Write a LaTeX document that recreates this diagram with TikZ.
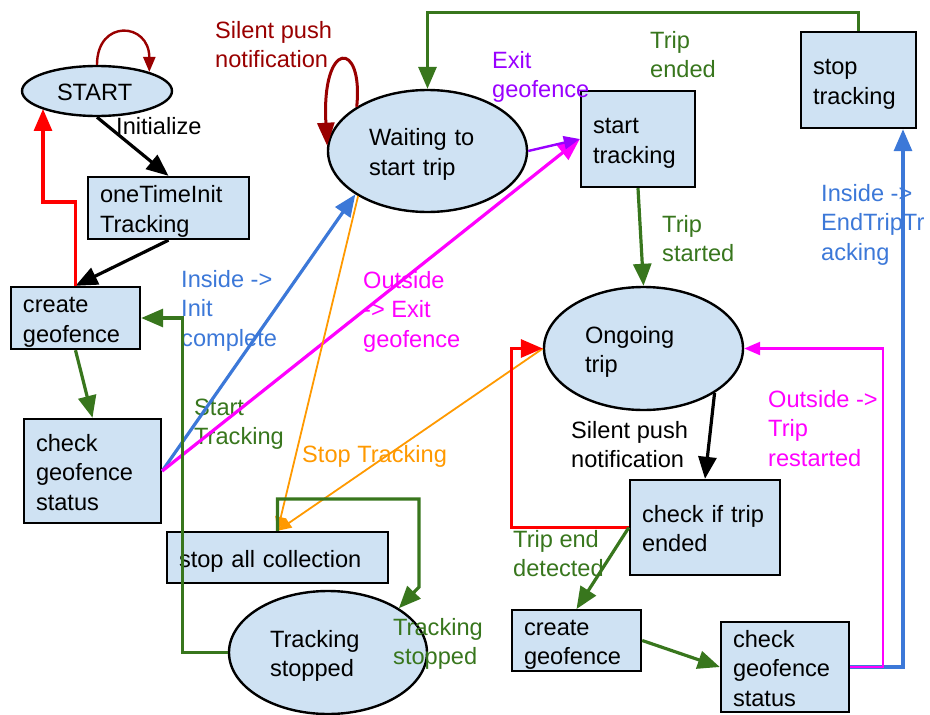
\documentclass[tikz,border=0pt]{standalone}
\usepackage{fontspec}
\setmainfont{Liberation Sans}
\usetikzlibrary{arrows.meta,shapes.geometric}
\definecolor{boxfill}{HTML}{CFE2F3}
\definecolor{dgreen}{HTML}{38761D}
\definecolor{dred}{HTML}{990000}
\definecolor{lblue}{HTML}{3C78D8}
\definecolor{magen}{HTML}{FF00FF}
\definecolor{orng}{HTML}{FF9900}
\definecolor{purp}{HTML}{9900FF}
\definecolor{brred}{HTML}{FF0000}
\begin{document}
\begin{tikzpicture}[x=1pt,y=-1pt,
  every node/.style={font=\fontsize{23.6}{29.5}\selectfont},
  % fixed line struts so that text blocks are centred like padded text lines
  padded/.style={execute at begin node={\rule{0pt}{25pt}},
                 execute at end node={\rule[-6pt]{0pt}{6pt}}},
  box/.style={draw=black,line width=2.4pt,fill=boxfill,rectangle,inner xsep=12pt,inner ysep=0pt,align=left,padded},
  state/.style={draw=black,line width=2.4pt,fill=boxfill,ellipse,inner sep=0pt,align=left,padded},
  lbl/.style={anchor=base west,inner sep=0pt,align=left},
  conn/.style={line width=3.2pt,-{Triangle[length=22pt,width=18pt]}},
  slim/.style={line width=1.8pt,-{Triangle[length=14pt,width=11pt]}},
]
\useasboundingbox (0,0) rectangle (930,715);

% states and actions
\node[state, text width=80pt, minimum width=150pt, minimum height=50pt] (start) at (97,91) {START};
\node[box, text width=137pt, minimum height=62pt] (init) at (168.5,208) {oneTimeInit\\Tracking};
\node[box, text width=105pt, minimum height=62pt] (cg1) at (75.5,318) {create\\geofence};
\node[box, text width=113pt, minimum height=104pt] (cgs1) at (92.5,471) {check\\geofence\\status};
\node[state, text width=117pt, minimum width=199pt, minimum height=122pt] (wait) at (427.5,151) {Waiting to\\start trip};
\node[box, text width=90pt, minimum height=96pt] (sttrack) at (638,139) {start\\tracking};
\node[box, text width=91pt, minimum height=96pt] (stoptrack) at (858.5,80) {stop\\tracking};
\node[state, text width=117pt, minimum width=199pt, minimum height=123pt] (ongoing) at (643.5,348.5) {Ongoing\\trip};
\node[box, text width=126pt, minimum height=95pt] (checkend) at (705,527.5) {check if trip\\ended};
\node[box, text width=105pt, minimum height=59pt] (cg2) at (576.5,640.5) {create\\geofence};
\node[box, text width=104pt, minimum height=88pt] (cgs2) at (785,667) {check\\geofence\\status};
\node[box, text width=197pt, minimum height=51pt] (stopall) at (277.5,557.5) {stop all collection};
\node[state, text width=116pt, minimum width=198pt, minimum height=123pt] (tstopped) at (328,652.5) {Tracking\\stopped};

% transition labels (anchored at the baseline of their last line)
\node[lbl, text=dred] (l1) at (215,67.5) {Silent push\\notification};
\node[lbl] (l2) at (116,134) {Initialize};
\node[lbl, text=lblue] (l3) at (181,346) {Inside ->\\Init\\complete};
\node[lbl, text=magen] (l4) at (363,347) {Outside\\-> Exit\\geofence};
\node[lbl, text=purp] (l5) at (492,97.5) {Exit\\geofence};
\node[lbl, text=dgreen] (l6) at (650,77.5) {Trip\\ended};
\node[lbl, text=dgreen] (l7) at (662,261.5) {Trip\\started};
\node[lbl, text=lblue] (l8) at (821,260) {Inside ->\\EndTripTr\\acking};
\node[lbl, text=dgreen] (l9) at (194,444.5) {Start\\Tracking};
\node[lbl, text=orng] (l10) at (302,462) {Stop Tracking};
\node[lbl, text=dgreen] (l11) at (393,664.5) {Tracking\\stopped};
\node[lbl] (l12) at (571,467.5) {Silent push\\notification};
\node[lbl, text=magen] (l13) at (768,466) {Outside ->\\Trip\\restarted};
\node[lbl, text=dgreen] (l14) at (513,576.5) {Trip end\\detected};

% transitions
\draw[dred, line width=2.4pt, -{Triangle[length=15pt,width=12pt]}]
  (start.north) .. controls +(0,-46) and +(0,-50) .. (start.20);
\draw[dred, line width=3pt, -{Triangle[length=23pt,width=17pt]}]
  (wait.148) .. controls +(7,-67) and +(-6,-107) .. (wait.177);
\draw[conn, black] (start.south) -- (init.north);
\draw[conn, black] (init.south) -- (cg1.north);
\coordinate (redbend) at (43,202);
\draw[conn, brred] (cg1.north) |- (redbend) -- (redbend |- start.198);
\draw[conn, dgreen] (cg1.south) -- (cgs1.north);
\draw[conn, lblue] (cgs1.east) -- (wait.211);
\draw[conn, magen] (cgs1.east) -- (sttrack.west);
\draw[purp, line width=2.4pt, -{Triangle[length=16pt,width=13pt]}] (wait.east) -- (sttrack.west);
\draw[slim, orng] (wait.213) -- (stopall.north);
\draw[slim, orng] (ongoing.west) -- (stopall.north);
\draw[conn, dgreen] (tstopped.west) -- ++(-45,0) |- (cg1.east);
\coordinate (loopc) at (419,499);
\draw[conn, dgreen] (stopall.north) |- (loopc) -- ++(0,88) -- (tstopped.32);
\draw[conn, dgreen] (stoptrack.north) -- ++(0,-18) -| (wait.north);
\draw[conn, dgreen] (sttrack.south) -- (ongoing.north);
\draw[conn, lblue] (cgs2.east) -| ([xshift=44.5pt]stoptrack.south);
\draw[magen, line width=2.4pt, -{Triangle[length=16pt,width=13pt]}] (cgs2.east) -- ++(33,0) |- (ongoing.east);
\draw[conn, black] (ongoing.-32) -- (checkend.north);
\draw[conn, brred] (checkend.west) -- ++(-117,0) |- (ongoing.west);
\draw[conn, dgreen] (checkend.west) -- (cg2.north);
\draw[conn, dgreen] (cg2.east) -- (cgs2.west);
\end{tikzpicture}
\end{document}
